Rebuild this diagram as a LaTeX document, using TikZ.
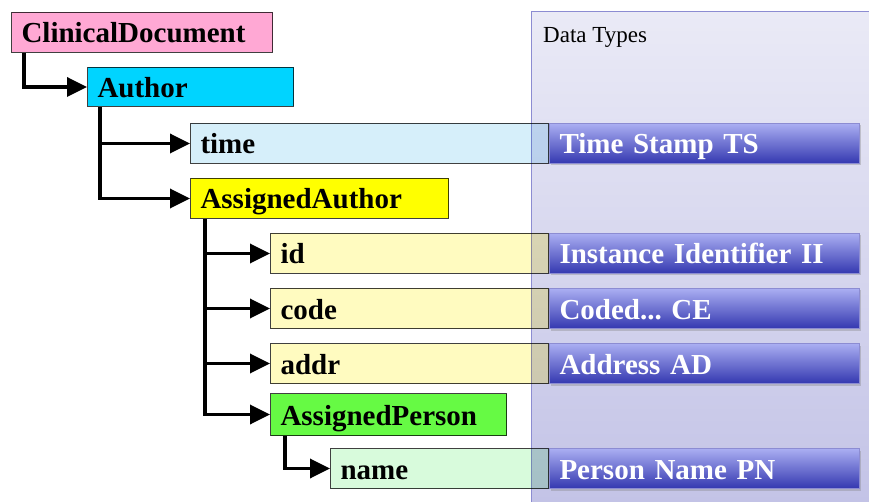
\documentclass[tikz,border=0pt]{standalone}
\usepackage{fontspec}
\setmainfont{Liberation Serif}
\usetikzlibrary{arrows.meta,shadows}

\definecolor{cdpink}{RGB}{255,168,212}
\definecolor{authcyan}{RGB}{0,212,255}
\definecolor{timeblue}{RGB}{214,239,250}
\definecolor{aayellow}{RGB}{255,255,0}
\definecolor{attryellow}{RGB}{255,251,192}
\definecolor{apgreen}{RGB}{102,250,68}
\definecolor{namegreen}{RGB}{216,251,220}
\definecolor{panelTop}{RGB}{234,234,246}
\definecolor{panelBot}{RGB}{194,194,230}
\definecolor{panelEdge}{RGB}{140,140,210}
\definecolor{dtTop}{RGB}{170,174,242}
\definecolor{dtBot}{RGB}{52,56,176}

\begin{document}
\begin{tikzpicture}[x=1pt,y=-1pt,
    elem/.style={draw=black!75, line width=1pt, anchor=north west,
      minimum height=40pt, inner xsep=10pt, inner ysep=0pt,
      text height=23pt, text depth=2pt, align=left,
      font=\fontsize{29}{31}\selectfont\bfseries},
    dtype/.style={elem, draw=panelEdge, text=white,
      top color=dtTop, bottom color=dtBot, text width=290pt,
      drop shadow={opacity=0.35, shadow xshift=1pt, shadow yshift=-2pt}},
    tree/.style={line width=3.5pt, -{Triangle[length=20pt,width=19pt]}}]
  \useasboundingbox (0,0) rectangle (869,502);
  \clip (0,0) rectangle (869,502);

  % data type panel
  \path[draw=panelEdge, line width=1pt, top color=panelTop, bottom color=panelBot]
    (531,12) rectangle (880,515);
  \node[anchor=base west, inner sep=0pt, font=\fontsize{23}{25}\selectfont] (dtlabel) at (543,43) {Data Types};

  % document tree
  \begin{scope}[blend mode=multiply]
    \node[elem, fill=cdpink, text width=241pt] (cd) at (11,12) {ClinicalDocument};
    \node[elem, fill=authcyan, text width=186pt, minimum height=39pt] (author) at (87,67) {Author};
    \node[elem, fill=timeblue, text width=338pt] (time) at (190,123) {time};
    \node[elem, fill=aayellow, text width=238pt] (assauth) at (190,178) {AssignedAuthor};
    \node[elem, fill=attryellow, text width=258pt] (id) at (270,233) {id};
    \node[elem, fill=attryellow, text width=258pt] (code) at (270,288) {code};
    \node[elem, fill=attryellow, text width=258pt] (addr) at (270,343) {addr};
    \node[elem, fill=apgreen, text width=216pt, minimum height=42pt] (assperson) at (270,393) {AssignedPerson};
    \node[elem, fill=namegreen, text width=198pt] (name) at (330,448) {name};
  \end{scope}

  % data types
  \node[dtype] (ts) at (549,123) {Time Stamp TS};
  \node[dtype] (ii) at (549,233) {Instance Identifier II};
  \node[dtype] (ce) at (549,288) {Coded...\ CE};
  \node[dtype] (ad) at (549,343) {Address AD};
  \node[dtype] (pn) at (549,448) {Person Name PN};

  % connectors
  \draw[tree] ([xshift=13pt]cd.south west) |- (author.west);
  \draw[tree] ([xshift=13pt]author.south west) |- (time.west);
  \draw[tree] ([xshift=13pt]author.south west) |- (assauth.west);
  \draw[tree] ([xshift=15pt]assauth.south west) |- (id.west);
  \draw[tree] ([xshift=15pt]assauth.south west) |- (code.west);
  \draw[tree] ([xshift=15pt]assauth.south west) |- (addr.west);
  \draw[tree] ([xshift=15pt]assauth.south west) |- (assperson.west);
  \draw[tree] ([xshift=15pt]assperson.south west) |- (name.west);
\end{tikzpicture}
\end{document}
